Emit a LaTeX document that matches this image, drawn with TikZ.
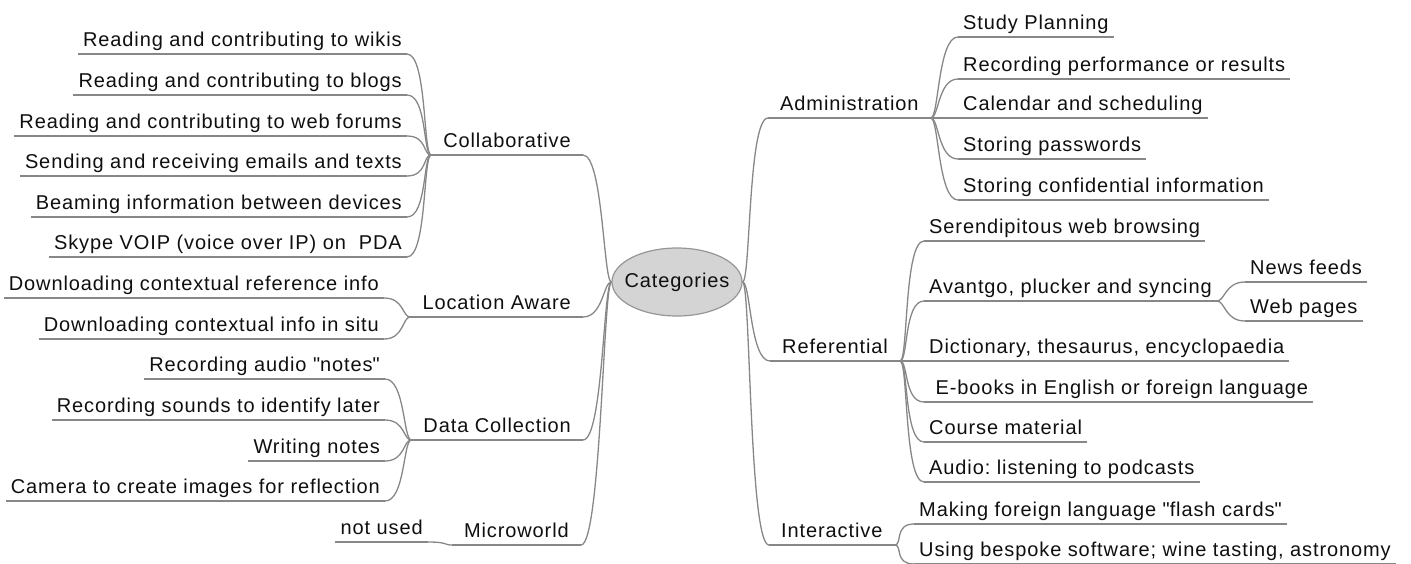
\documentclass[tikz,border=0pt]{standalone}
\usepackage{fontspec}
\setmainfont{Liberation Sans}[LetterSpace=4.5, Ligatures=NoCommon]
\usetikzlibrary{shapes.geometric}
\definecolor{linkgray}{RGB}{135,135,135}
\definecolor{hubfill}{RGB}{212,212,212}
\definecolor{hubdraw}{RGB}{150,150,150}
\definecolor{inkgray}{RGB}{15,15,15}
\newcommand{\dq}{\textquotedbl}
\frenchspacing
\begin{document}
\begin{tikzpicture}[x=1pt, y=-1pt,
  every node/.style={font=\fontsize{20}{23}\selectfont, text=inkgray},
  leaf/.style={inner xsep=5pt, inner ysep=0pt, text height=14pt, text depth=7pt},
  branch/.style={leaf, inner xsep=12pt},
  hub/.style={ellipse, draw=hubdraw, fill=hubfill, line width=1.2pt,
    minimum width=130pt, minimum height=68pt, inner sep=0pt},
  uline/.style={draw=linkgray, line width=1.3pt},
  rlink/.style={uline, out=0, in=180, out distance=8pt, in distance=20pt},
  llink/.style={uline, out=180, in=0, out distance=8pt, in distance=20pt}]
\useasboundingbox (0,0) rectangle (1411,563);
\clip (0,0) rectangle (1411,563);

% centre
\node[hub] (cat) at (677,282) {\makebox[0pt]{Categories}};

% left main branches
\node[branch, anchor=south east] (collab) at (583,155) {Collaborative};
\node[branch, anchor=south east] (loc)    at (583,317) {Location Aware};
\node[branch, anchor=south east] (data)   at (583,440) {Data Collection};
\node[branch, anchor=south east] (micro)  at (581,545) {Microworld};

% Collaborative
\node[leaf, anchor=south east] (c1) at (407,54)  {Reading and contributing to wikis};
\node[leaf, anchor=south east] (c2) at (407,95)  {Reading and contributing to blogs};
\node[leaf, anchor=south east] (c3) at (407,136) {Reading and contributing to web forums};
\node[leaf, anchor=south east] (c4) at (407,176) {Sending and receiving emails and texts};
\node[leaf, anchor=south east] (c5) at (407,217) {Beaming information between devices};
\node[leaf, anchor=south east] (c6) at (407,257) {Skype VOIP (voice over IP) on~~PDA};

% Location Aware
\node[leaf, anchor=south east] (l1) at (384,298) {Downloading contextual reference info};
\node[leaf, anchor=south east] (l2) at (384,339) {Downloading contextual info in situ};

% Data Collection
\node[leaf, anchor=south east] (d1) at (385,379) {Recording audio \dq notes\dq};
\node[leaf, anchor=south east] (d2) at (385,420) {Recording sounds to identify later};
\node[leaf, anchor=south east] (d3) at (385,461) {Writing notes};
\node[leaf, anchor=south east] (d4) at (385,501) {Camera to create images for reflection};

% Microworld
\node[leaf, anchor=south east] (m1) at (428,542) {not used};

% right main branches
\node[branch, anchor=south west] (admin) at (768,118) {Administration};
\node[branch, anchor=south west] (ref)   at (770,361) {Referential};
\node[branch, anchor=south west] (inter) at (769,545) {Interactive};

% Administration
\node[leaf, anchor=south west] (a1) at (958,37)  {Study Planning};
\node[leaf, anchor=south west] (a2) at (958,79)  {Recording performance or results};
\node[leaf, anchor=south west] (a3) at (958,118) {Calendar and scheduling};
\node[leaf, anchor=south west] (a4) at (958,159) {Storing passwords};
\node[leaf, anchor=south west] (a5) at (958,200) {Storing confidential information};

% Referential
\node[leaf, anchor=south west] (r1) at (924,241) {Serendipitous web browsing};
\node[leaf, anchor=south west] (r2) at (924,301) {Avantgo, plucker and syncing};
\node[leaf, anchor=south west] (r3) at (924,361) {Dictionary, thesaurus, encyclopaedia};
\node[leaf, anchor=south west] (r4) at (924,402) {\ E-books in English or foreign language};
\node[leaf, anchor=south west] (r5) at (924,442) {Course material};
\node[leaf, anchor=south west] (r6) at (924,482) {Audio: listening to podcasts};
\node[leaf, anchor=south west] (n1) at (1245,282) {News feeds};
\node[leaf, anchor=south west] (n2) at (1245,321) {Web pages};

% Interactive
\node[leaf, anchor=south west] (i1) at (914,524) {Making foreign language \dq flash cards\dq};
\node[leaf, anchor=south west] (i2) at (914,564) {Using bespoke software; wine tasting, astronomy};

% underlines
\foreach \n in {collab,loc,data,micro,c1,c2,c3,c4,c5,c6,l1,l2,d1,d2,d3,d4,m1,
                admin,ref,inter,a1,a2,a3,a4,a5,r1,r2,r3,r4,r5,r6,n1,n2,i1,i2}
  \draw[uline] (\n.south west) -- (\n.south east);

% connectors, left side
\foreach \n in {collab,loc,data,micro}
  \draw[llink] (cat.west) to (\n.south east);
\foreach \n in {c1,c2,c3,c4,c5,c6}
  \draw[llink] (collab.south west) to (\n.south east);
\foreach \n in {l1,l2}
  \draw[llink] (loc.south west) to (\n.south east);
\foreach \n in {d1,d2,d3,d4}
  \draw[llink] (data.south west) to (\n.south east);
\draw[llink] (micro.south west) to (m1.south east);

% connectors, right side
\foreach \n in {admin,ref,inter}
  \draw[rlink] (cat.east) to (\n.south west);
\foreach \n in {a1,a2,a3,a4,a5}
  \draw[rlink] (admin.south east) to (\n.south west);
\foreach \n in {r1,r2,r3,r4,r5,r6}
  \draw[rlink] (ref.south east) to (\n.south west);
\foreach \n in {n1,n2}
  \draw[rlink] (r2.south east) to (\n.south west);
\foreach \n in {i1,i2}
  \draw[rlink] (inter.south east) to (\n.south west);
\end{tikzpicture}
\end{document}
